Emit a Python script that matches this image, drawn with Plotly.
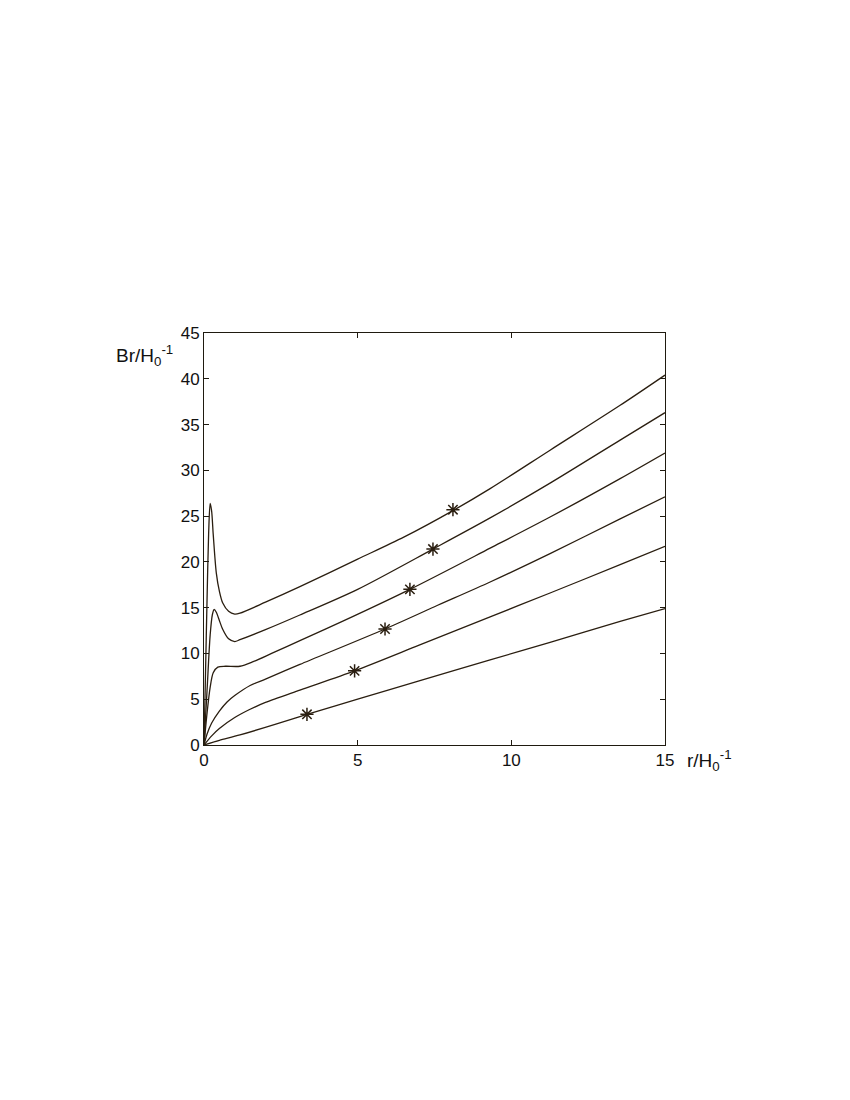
import plotly.graph_objects as go

# curves, bottom to top
x1 = [0, 0.5, 1.17, 3.12, 3.35, 5.0, 7.0, 9.31, 11.26, 13.54, 15]
y1 = [0, 0.5, 1.1, 3.1, 3.35, 5.0, 7.0, 9.3, 11.2, 13.5, 14.9]

x2 = [0, 0.25, 0.5, 1.0, 1.5, 2.0, 3.12, 4.9, 7.0, 9.31, 11.26, 13.54, 15]
y2 = [0, 1.0, 1.8, 3.0, 3.9, 4.65, 6.0, 8.1, 10.9, 14.0, 16.6, 19.7, 21.7]

x3 = [0, 0.1, 0.25, 0.5, 0.75, 1.0, 1.5, 2.0, 3.12, 5.89, 7.5, 9.31, 11.26, 13.54, 15]
y3 = [0, 1.2, 2.4, 3.7, 4.7, 5.4, 6.5, 7.2, 8.8, 12.67, 15.1, 17.8, 20.9, 24.7, 27.1]

x4 = [0, 0.1, 0.2, 0.3, 0.45, 0.7, 1.17, 1.6, 2.2, 3.12, 4.5, 6.7, 9.31, 11.26, 13.54, 15]
y4 = [0, 3.5, 6.3, 7.9, 8.5, 8.6, 8.6, 9.1, 10.0, 11.4, 13.5, 17.0, 21.5, 24.9, 29.1, 31.9]

x5 = [0, 0.1, 0.2, 0.27, 0.33, 0.4, 0.5, 0.6, 0.8, 1.0, 1.17, 2.0, 3.12, 5.0, 7.45, 9.31, 11.26, 13.54, 15]
y5 = [0, 6.0, 12.0, 14.2, 14.8, 14.5, 13.6, 12.7, 11.6, 11.3, 11.5, 12.6, 14.2, 17.0, 21.4, 24.8, 28.6, 33.3, 36.3]

x6 = [0, 0.05, 0.1, 0.15, 0.2, 0.25, 0.3, 0.4, 0.5, 0.61, 0.8, 1.0, 1.17, 2.0, 3.12, 5.0, 6.5, 8.1, 9.31, 11.26, 13.54, 15]
y6 = [0, 8.0, 16.0, 23.0, 26.4, 25.5, 23.0, 18.8, 16.8, 15.5, 14.6, 14.3, 14.4, 15.6, 17.3, 20.3, 22.7, 25.6, 28.0, 32.2, 37.1, 40.4]

# star markers
star_x = [3.35, 4.9, 5.89, 6.7, 7.45, 8.1]
star_y = [3.35, 8.1, 12.67, 17.0, 21.4, 25.7]

line_color = "#2a1e10"
text_font = dict(family="Liberation Sans, Arial", size=17, color="#111111")

fig = go.Figure()
for xs, ys in [(x1, y1), (x2, y2), (x3, y3), (x4, y4), (x5, y5), (x6, y6)]:
    fig.add_trace(go.Scatter(
        x=xs, y=ys, mode="lines",
        line=dict(color=line_color, width=1.3, shape="spline", smoothing=0.8),
        showlegend=False,
    ))

fig.add_trace(go.Scatter(
    x=star_x, y=star_y, mode="markers",
    marker=dict(symbol="asterisk-open", size=11, color=line_color,
                line=dict(color=line_color, width=1.5)),
    showlegend=False,
))

axis_style = dict(
    showgrid=False, zeroline=False,
    showline=True, linecolor="#1f1a0f", linewidth=1, mirror="allticks",
    ticks="inside", ticklen=5, tickcolor="#1f1a0f",
    tickfont=text_font,
)

fig.update_xaxes(range=[0, 15], tickvals=[0, 5, 10, 15], **axis_style)
fig.update_yaxes(range=[0, 45], tickvals=list(range(0, 50, 5)), **axis_style)

fig.add_annotation(
    x=0, y=1, xref="paper", yref="paper",
    xanchor="right", yanchor="middle", xshift=-29, yshift=-22,
    text="Br/H<sub>0</sub><sup>-1</sup>", showarrow=False,
    font=dict(family="Liberation Sans, Arial", size=19, color="#111111"),
)
fig.add_annotation(
    x=1, y=0, xref="paper", yref="paper",
    xanchor="left", yanchor="middle", xshift=20, yshift=-15,
    text="r/H<sub>0</sub><sup>-1</sup>", showarrow=False,
    font=dict(family="Liberation Sans, Arial", size=19, color="#111111"),
)

fig.update_layout(
    width=850, height=1100,
    margin=dict(l=196, r=193, t=325, b=363),
    paper_bgcolor="white", plot_bgcolor="white",
)

fig.write_html("out.html")
